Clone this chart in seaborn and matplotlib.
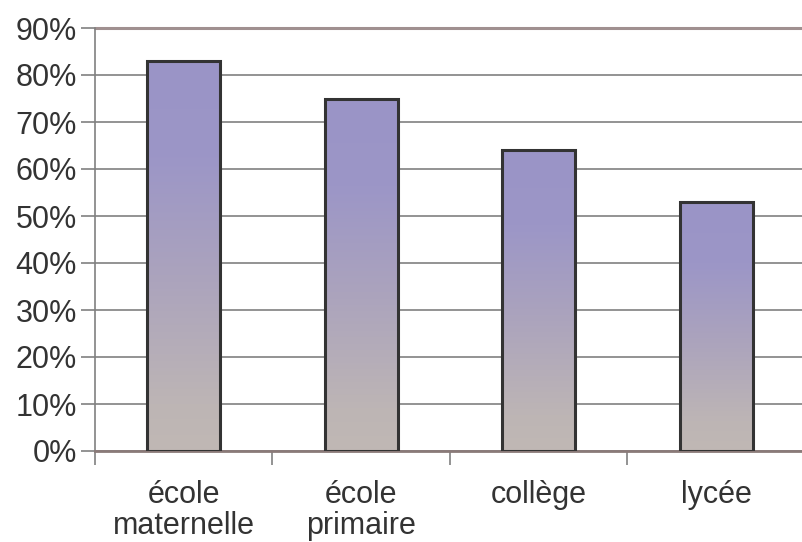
import numpy as np
import pandas as pd
import matplotlib
matplotlib.use("Agg")
import matplotlib.pyplot as plt
from matplotlib.colors import LinearSegmentedColormap
import seaborn as sns

categories = ["école\nmaternelle", "école\nprimaire", "collège", "lycée"]
values = [83, 75, 64, 53]
yticks = [0, 10, 20, 30, 40, 50, 60, 70, 80, 90]
ytick_labels = [f"{v}%" for v in yticks]

df = pd.DataFrame({"niveau": categories, "part": values})

sns.set_theme(style="white")
plt.rcParams["font.family"] = ["Liberation Sans", "DejaVu Sans"]

fig = plt.figure(figsize=(8.03, 5.42), dpi=100)
ax = fig.add_axes([95 / 803, 1 - 451 / 542, 710 / 803, (451 - 28) / 542])

sns.barplot(data=df, x="niveau", y="part", ax=ax, width=0.41,
            color="#9b96c6", edgecolor="#333333", linewidth=2.2, zorder=3)

# vertical gradient inside each bar: purple at the top, warm grey at the bottom
cmap = LinearSegmentedColormap.from_list(
    "bar", [(0.0, "#c0b8b4"), (0.12, "#bdb5b5"), (0.45, "#aba3bd"),
            (0.75, "#9c96c7"), (1.0, "#9a94c6")])
grad = np.linspace(0, 1, 256).reshape(-1, 1)
for p in ax.patches:
    x0, w, h = p.get_x(), p.get_width(), p.get_height()
    p.set_facecolor("none")
    im = ax.imshow(grad, cmap=cmap, origin="lower", aspect="auto",
                   extent=(x0, x0 + w, 0, h), zorder=2.5, interpolation="bilinear")
    im.set_clip_path(p)
ax.set_xlim(-0.5, 3.5)
ax.set_ylim(0, 90)

ax.set_yticks(yticks)
ax.set_yticklabels(ytick_labels)
ax.yaxis.grid(True, color="#808080", linewidth=1.2, zorder=1)
ax.set_axisbelow(True)

# category ticks sit on the boundaries between groups
ax.set_xticks(range(len(categories)))
ax.set_xticklabels(categories, linespacing=1.02)
ax.tick_params(axis="x", length=0, pad=21, labelsize=22, labelcolor="#333333")
ax.set_xticks([0.5, 1.5, 2.5, -0.5], minor=True)
ax.tick_params(axis="x", which="minor", length=10, width=1.2, color="#808080", direction="out")
ax.tick_params(axis="y", length=10, width=1.2, color="#808080", direction="out",
               labelsize=22, labelcolor="#333333", pad=3)
ax.tick_params(axis="both", which="both", bottom=True, left=True)

ax.spines["right"].set_visible(False)
ax.spines["top"].set_visible(False)
ax.spines["left"].set_color("#808080")
ax.spines["left"].set_linewidth(1.2)
ax.spines["bottom"].set_color("#8a7a78")
ax.spines["bottom"].set_linewidth(2)
ax.axhline(90, color="#a09090", linewidth=2.2, zorder=1, clip_on=False)

ax.set_xlabel("")
ax.set_ylabel("")
fig.savefig("out.png", dpi=100)
